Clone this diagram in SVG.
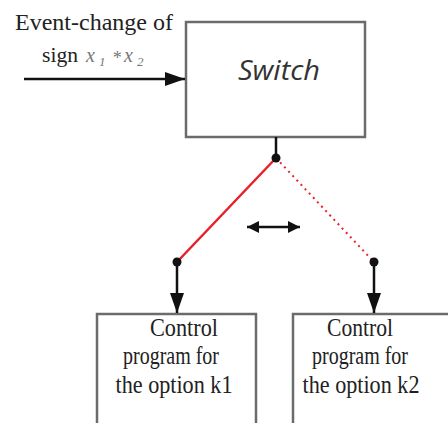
<svg xmlns="http://www.w3.org/2000/svg" width="448" height="423" viewBox="0 0 448 423">
<style>
.box{fill:#fff;stroke:#6b6b6b;stroke-width:2.5}
.serif{font-family:"Liberation Serif","Times New Roman",serif;fill:#222}
.lbl{font-size:25px;text-anchor:middle}
.wire{stroke:#111;stroke-width:2.5;fill:none}
.dot{fill:#111}
.var{font-family:"Liberation Serif","Times New Roman",serif;font-style:italic;fill:#777}
</style>
<defs>
<marker id="ah" viewBox="0 0 12 12" refX="12" refY="6" markerWidth="12" markerHeight="12" markerUnits="userSpaceOnUse" orient="auto-start-reverse">
<path d="M0,0 L12,6 L0,12 Z" fill="#111"/>
</marker>
<marker id="ahL" viewBox="0 0 20 14" refX="20" refY="7" markerWidth="20" markerHeight="14" markerUnits="userSpaceOnUse" orient="auto-start-reverse">
<path d="M0,0 L20,7 L0,14 Z" fill="#111"/>
</marker>
</defs>
<rect width="448" height="423" fill="#fff"/>
<g id="input-label">
<text class="serif" x="15" y="30" font-size="24" textLength="158" lengthAdjust="spacingAndGlyphs">Event-change of</text>
<text class="serif" x="42" y="62" font-size="22" textLength="36" lengthAdjust="spacingAndGlyphs">sign</text>
<text class="var" x="86" y="62" font-size="20">x</text>
<text class="var" x="99" y="66" font-size="13">1</text>
<text class="var" x="112" y="64" font-size="18">*</text>
<text class="var" x="124" y="62" font-size="20">x</text>
<text class="var" x="137" y="66" font-size="13">2</text>
</g>
<g id="switch">
<rect class="box" x="186" y="22" width="179" height="115"/>
<text x="279" y="80" font-family="'Open Sans','Liberation Sans',sans-serif" font-style="italic" font-size="27" fill="#333" text-anchor="middle" textLength="82" lengthAdjust="spacingAndGlyphs">Switch</text>
</g>
<g id="k1">
<rect class="box" x="97" y="314" width="159" height="120"/>
<text class="serif lbl" x="184" y="336" textLength="68" lengthAdjust="spacingAndGlyphs">Control</text>
<text class="serif lbl" x="171" y="364" textLength="96" lengthAdjust="spacingAndGlyphs">program for</text>
<text class="serif lbl" x="174" y="393" textLength="117" lengthAdjust="spacingAndGlyphs">the option k1</text>
</g>
<g id="k2">
<rect class="box" x="293" y="314" width="170" height="120"/>
<text class="serif lbl" x="360" y="336" textLength="66" lengthAdjust="spacingAndGlyphs">Control</text>
<text class="serif lbl" x="360" y="364" textLength="96" lengthAdjust="spacingAndGlyphs">program for</text>
<text class="serif lbl" x="361" y="393" textLength="117" lengthAdjust="spacingAndGlyphs">the option k2</text>
</g>
<g id="connectors">
<line class="wire" x1="24" y1="79" x2="185" y2="79" marker-end="url(#ahL)"/>
<line class="wire" x1="276" y1="137" x2="276" y2="158"/>
<line x1="276" y1="158" x2="177" y2="262" stroke="#e8202a" stroke-width="2.5"/>
<line x1="276" y1="158" x2="374" y2="262" stroke="#e8202a" stroke-width="2" stroke-dasharray="2 4"/>
<line class="wire" x1="177" y1="262" x2="177" y2="313" marker-end="url(#ahL)"/>
<line class="wire" x1="374" y1="262" x2="374" y2="313" marker-end="url(#ahL)"/>
<line class="wire" x1="247" y1="227" x2="300" y2="227" marker-start="url(#ah)" marker-end="url(#ah)"/>
<circle class="dot" cx="276" cy="158" r="4.5"/>
<circle class="dot" cx="177" cy="262" r="4.5"/>
<circle class="dot" cx="374" cy="262" r="4.5"/>
</g>
</svg>
